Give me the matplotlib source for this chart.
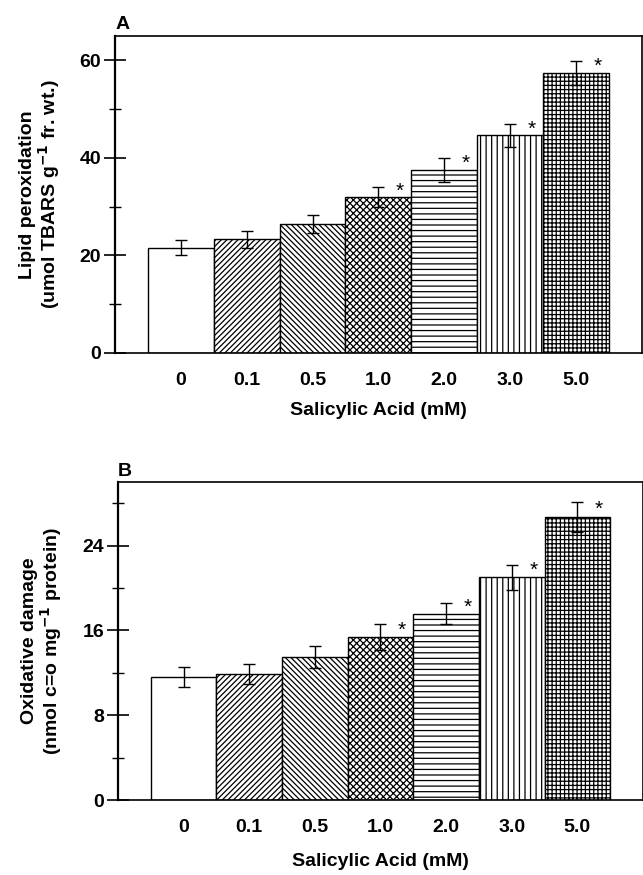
import matplotlib
matplotlib.use('Agg')
import matplotlib.pyplot as plt
from matplotlib.ticker import MultipleLocator

plt.rcParams['font.family'] = ['Liberation Sans', 'DejaVu Sans']
plt.rcParams['hatch.linewidth'] = 0.9

doses = ['0', '0.1', '0.5', '1.0', '2.0', '3.0', '5.0']
hatches = ['', '//////', '\\\\\\\\\\\\', 'xxxxx', '---', '|||', '++++']

lipid = [21.6, 23.3, 26.4, 32.0, 37.5, 44.6, 57.4]
lipid_err = [1.5, 1.7, 1.9, 2.0, 2.4, 2.4, 2.4]
lipid_sig = [False, False, False, True, True, True, True]

oxid = [11.6, 11.9, 13.5, 15.4, 17.6, 21.0, 26.7]
oxid_err = [0.95, 0.95, 1.05, 1.2, 1.0, 1.2, 1.4]
oxid_sig = [False, False, False, True, True, True, True]

fig = plt.figure(figsize=(6.43, 8.75), dpi=100)
axA = fig.add_axes([0.179, 0.5966, 0.819, 0.3623])
axB = fig.add_axes([0.1835, 0.0857, 0.8165, 0.3633])


def draw_panel(ax, vals, errs, sig, ymax, major, minor, ylabel, letter, xpad):
    x = list(range(len(vals)))
    for i in x:
        ax.bar(i, vals[i], width=1.0, color='white', edgecolor='black',
               hatch=hatches[i], linewidth=1.0, zorder=2)
    ax.errorbar(x, vals, yerr=errs, fmt='none', ecolor='black',
                elinewidth=1.0, capsize=4, capthick=1.0, zorder=3)
    for i in x:
        if sig[i]:
            ax.text(i + 0.33, vals[i] + errs[i] * 0.55, '*', fontsize=15,
                    ha='center', va='center', zorder=4)
    ax.set_xlim(-1, 7)
    ax.set_ylim(0, ymax)
    ax.set_xticks(x)
    ax.set_xticklabels(doses, fontsize=14, fontweight='bold')
    ax.tick_params(axis='x', length=0, pad=14)
    ax.yaxis.set_major_locator(MultipleLocator(major))
    ax.yaxis.set_minor_locator(MultipleLocator(minor))
    ax.tick_params(axis='y', which='major', direction='inout', length=16,
                   width=1.2, labelsize=14, pad=2)
    ax.tick_params(axis='y', which='minor', direction='inout', length=9,
                   width=1.0)
    for lab in ax.get_yticklabels():
        lab.set_fontweight('bold')
    ax.spines['left'].set_linewidth(1.6)
    for s in ['top', 'bottom', 'right']:
        ax.spines[s].set_linewidth(1.2)
    ax.set_xlabel('Salicylic Acid (mM)', fontsize=14, fontweight='bold',
                  labelpad=xpad)
    ax.set_ylabel(ylabel, fontsize=14, fontweight='bold', labelpad=13,
                  multialignment='center', linespacing=1.0)
    ax.text(0.0, 1.008, letter, transform=ax.transAxes, fontsize=14,
            fontweight='bold', ha='left', va='bottom')


draw_panel(axA, lipid, lipid_err, lipid_sig, 65, 20, 10,
           'Lipid peroxidation\n(umol TBARS g$^{\\mathbf{-1}}$ fr. wt.)', 'A', 9)
draw_panel(axB, oxid, oxid_err, oxid_sig, 30, 8, 4,
           'Oxidative damage\n(nmol c=o mg$^{\\mathbf{-1}}$ protein)', 'B', 12)

fig.savefig('out.png', dpi=100)
